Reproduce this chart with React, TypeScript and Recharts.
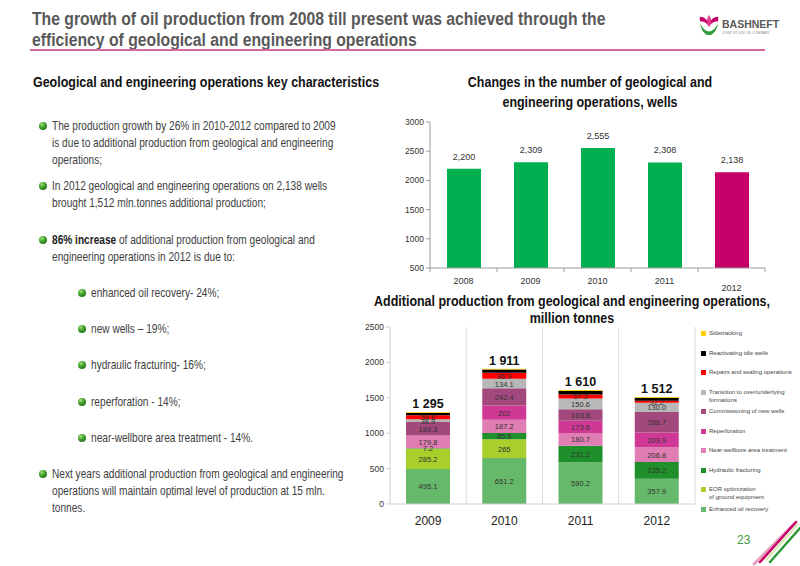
import { Bar, BarChart, CartesianGrid, Cell, LabelList, XAxis, YAxis } from "recharts";

// wells chart
const wellYears = ["2008", "2009", "2010", "2011", "2012"];
const wellCounts = [2200, 2309, 2555, 2308, 2138];
const wellTicks = [500, 1000, 1500, 2000, 2500, 3000];

// additional production chart (bottom to top of stack)
const prodYears = ["2009", "2010", "2011", "2012"];
const prodTotals = [1295, 1911, 1610, 1512];
const enhancedOilRecovery = [495.1, 651.2, 590.2, 357.9];
const eorOptimization = [285.2, 265, 0, 0];
const hydraulicFracturing = [7.2, 85.5, 231.2, 235.2];
const nearWellbore = [179.8, 187.2, 180.7, 206.8];
const reperforation = [0, 202, 173.6, 209.9];
const newWells = [189.3, 242.4, 163.8, 288.7];
const transition = [38.9, 134.1, 150.6, 130.0];
const repairs = [59.6, 86.9, 57.3, 31.2];
const reactivating = [30, 44, 48, 40];
const sidetracking = [10, 12.7, 14.6, 12.3];
const prodTicks = [0, 500, 1000, 1500, 2000, 2500];

const series = [
  { key: "eor", name: "Enhanced oil recovery", values: enhancedOilRecovery, color: "#66b96a", label: true, fixed: false },
  { key: "eorOpt", name: "EOR optimization\nof ground equipment", values: eorOptimization, color: "#a9cf2c", label: true, fixed: false },
  { key: "hf", name: "Hydraulic fracturing", values: hydraulicFracturing, color: "#1f8f2c", label: true, fixed: false },
  { key: "nwat", name: "Near-wellbore area treatment", values: nearWellbore, color: "#e07db2", label: true, fixed: false },
  { key: "reperf", name: "Reperforation", values: reperforation, color: "#cf3894", label: true, fixed: false },
  { key: "newWells", name: "Commissioning of new wells", values: newWells, color: "#a2487c", label: true, fixed: false },
  { key: "transition", name: "Transition to over/underlying\nformations", values: transition, color: "#b8b8b8", label: true, fixed: true },
  { key: "repairs", name: "Repairs and sealing operations", values: repairs, color: "#ff0000", label: true, fixed: false },
  { key: "reactivating", name: "Reactivating idle wells", values: reactivating, color: "#000000", label: false, fixed: false },
  { key: "sidetracking", name: "Sidetracking", values: sidetracking, color: "#ffd200", label: false, fixed: false },
];

const wellData = wellYears.map((year, i) => ({ year, count: wellCounts[i] }));

const prodData = prodYears.map((year, i) => {
  const row: Record<string, number | string> = {
    year,
    total: prodTotals[i].toLocaleString("en-US").replace(",", " "),
  };
  series.forEach((s) => (row[s.key] = s.values[i]));
  return row;
});

const arial = "'Liberation Sans', Arial, sans-serif";
const SQUEEZE = "scaleX(0.82)";

const mainBullets = [
  { top: 118, lines: ["The production growth by 26% in 2010-2012 compared to 2009", "is due to additional production from geological and engineering", "operations;"] },
  { top: 178, lines: ["In 2012 geological and engineering operations on 2,138 wells", "brought 1,512  mln.tonnes additional production;"] },
  { top: 232, lines: ["__86% increase of additional production from geological and", "engineering operations in 2012 is due to:"] },
  { top: 466, lines: ["Next years additional production from geological and engineering", "operations will maintain optimal level of production at 15 mln.", "tonnes."] },
];
const subBullets = [
  { top: 285, text: "enhanced oil recovery- 24%;" },
  { top: 321, text: "new wells – 19%;" },
  { top: 357, text: "hydraulic fracturing- 16%;" },
  { top: 394, text: "reperforation - 14%;" },
  { top: 430, text: "near-wellbore area treatment - 14%." },
];

function Dot({ left, top }: { left: number; top: number }) {
  return (
    <div
      style={{
        position: "absolute",
        left,
        top,
        width: 8,
        height: 8,
        borderRadius: "50%",
        background: "radial-gradient(circle at 35% 30%, #9be07a 0%, #3c9a2a 45%, #1c5e12 100%)",
      }}
    />
  );
}

function WellTick(props: any) {
  const { x, y, payload, width } = props;
  const half = (width || 335) / wellYears.length / 2;
  const low = payload.value === "2012";
  return (
    <g>
      <line x1={x - half} x2={x - half} y1={y - 8} y2={y - 4} stroke="#999" />
      {payload.index === wellYears.length - 1 && (
        <line x1={x + half} x2={x + half} y1={y - 8} y2={y - 4} stroke="#999" />
      )}
      <text x={x} y={y + (low ? 15 : 8)} textAnchor="middle" fontSize={9} fill="#333" fontFamily={arial}>
        {payload.value}
      </text>
    </g>
  );
}

function SegmentLabel(props: any) {
  const { x, y, width, height, value, fixed } = props;
  if (!value) return null;
  return (
    <text
      x={x + width / 2}
      y={y + height / 2 + 3}
      textAnchor="middle"
      fontSize={7.5}
      fill="#333"
      fontFamily={arial}
    >
      {fixed ? Number(value).toFixed(1) : value}
    </text>
  );
}

function Logo() {
  return (
    <div style={{ position: "absolute", left: 698, top: 12, width: 90, height: 30 }}>
      <svg width={22} height={22} viewBox="0 0 24 24" style={{ position: "absolute", left: 0, top: 2 }}>
        <path d="M2 3 C8 3 12 8 12 14 C10 10 6 8 2 8 Z" fill="#c8006a" />
        <path d="M22 3 C16 3 12 8 12 14 C14 10 18 8 22 8 Z" fill="#c8006a" />
        <path d="M12 1 C15 5 15 10 12 14 C9 10 9 5 12 1 Z" fill="#e0408a" />
        <path d="M2 10 C4 19 8 23 12 23 C16 23 20 19 22 10 C19 16 15 19 12 19 C9 19 5 16 2 10 Z" fill="#2f9a3a" />
      </svg>
      <div style={{ position: "absolute", left: 24, top: 6, fontFamily: arial, fontWeight: 700, fontSize: 10.5, color: "#5a5a5a" }}>
        BASHNEFT
      </div>
      <div style={{ position: "absolute", left: 24, top: 19, fontFamily: arial, fontSize: 3.5, color: "#888" }}>
        JOINT STOCK OIL COMPANY
      </div>
    </div>
  );
}

const leftText = {
  position: "absolute" as const,
  fontFamily: arial,
  whiteSpace: "nowrap" as const,
  transform: SQUEEZE,
  transformOrigin: "0 0",
};

const centerText = {
  position: "absolute" as const,
  fontFamily: arial,
  fontWeight: 700,
  whiteSpace: "nowrap" as const,
  textAlign: "center" as const,
  transform: SQUEEZE,
  transformOrigin: "50% 0",
  color: "#111",
};

export default function App() {
  const legendItems = [...series].reverse();
  return (
    <div style={{ position: "absolute", left: 0, top: 0, width: 800, height: 566, background: "#fff", overflow: "hidden" }}>
      {/* header */}
      <div style={{ ...leftText, left: 32, top: 8, fontWeight: 700, fontSize: 19.2, lineHeight: "21px", color: "#595959" }}>
        The growth of oil production from 2008 till present was achieved through the
        <br />
        efficiency of geological and engineering operations
      </div>
      <div style={{ position: "absolute", left: 30, top: 49, width: 735, height: 2, background: "#d66a9e" }} />
      <Logo />

      {/* left column */}
      <div style={{ ...leftText, left: 33, top: 73, fontWeight: 700, fontSize: 15.2, color: "#111" }}>
        Geological and engineering operations key characteristics
      </div>
      {mainBullets.map((b, i) => (
        <div key={i}>
          <Dot left={39} top={b.top + 4} />
          <div style={{ ...leftText, left: 52, top: b.top, fontSize: 12.35, lineHeight: "17px", color: "#404040" }}>
            {b.lines.map((l, j) =>
              l.startsWith("__") ? (
                <div key={j}>
                  <b style={{ color: "#222" }}>86% increase</b>
                  {l.slice(14)}
                </div>
              ) : (
                <div key={j}>{l}</div>
              )
            )}
          </div>
        </div>
      ))}
      {subBullets.map((b, i) => (
        <div key={i}>
          <Dot left={78} top={b.top + 4} />
          <div style={{ ...leftText, left: 91, top: b.top, fontSize: 12.35, lineHeight: "17px", color: "#404040" }}>
            {b.text}
          </div>
        </div>
      ))}

      {/* wells chart */}
      <div style={{ ...centerText, left: 440, top: 72, width: 300, fontSize: 15.2, lineHeight: "20px" }}>
        Changes in the number of geological and
        <br />
        engineering operations, wells
      </div>
      <div style={{ position: "absolute", left: 380, top: 110 }}>
        <BarChart width={400} height={200} data={wellData} margin={{ top: 12, right: 15, bottom: 12, left: 10 }}>
          <XAxis dataKey="year" stroke="#999" tickLine={false} tick={<WellTick />} height={30} />
          <YAxis
            domain={[500, 3000]}
            ticks={wellTicks}
            allowDataOverflow
            width={40}
            stroke="#999"
            tickSize={4}
            tick={{ fontSize: 8.5, fill: "#333", fontFamily: arial }}
          />
          <Bar dataKey="count" barSize={34} isAnimationActive={false}>
            {wellData.map((d, i) => (
              <Cell key={d.year} fill={i === wellData.length - 1 ? "#c8006a" : "#00b050"} />
            ))}
            <LabelList
              dataKey="count"
              position="top"
              offset={9}
              formatter={(v: any) => Number(v).toLocaleString("en-US")}
              style={{ fontSize: 9, fill: "#333", fontFamily: arial }}
            />
          </Bar>
        </BarChart>
      </div>

      {/* production chart */}
      <div style={{ ...centerText, left: 322, top: 292, width: 500, fontSize: 15.2, lineHeight: "17px" }}>
        Additional production from geological and engineering operations,
        <br />
        million tonnes
      </div>
      <div style={{ position: "absolute", left: 340, top: 320 }}>
        <BarChart width={370} height={215} data={prodData} margin={{ top: 7, right: 15, bottom: 0, left: 10 }}>
          <CartesianGrid
            horizontal={false}
            stroke="#d9d9d9"
            verticalCoordinatesGenerator={({ offset }: any) =>
              prodYears.map((_, i) => offset.left + ((i + 1) * offset.width) / prodYears.length)
            }
          />
          <XAxis
            dataKey="year"
            stroke="#d0d0d0"
            tickLine={false}
            height={31}
            tick={{ fontSize: 12, fill: "#222", fontFamily: arial }}
            tickMargin={6}
          />
          <YAxis
            domain={[0, 2500]}
            ticks={prodTicks}
            width={40}
            stroke="#d0d0d0"
            tickSize={4}
            tick={{ fontSize: 8.5, fill: "#333", fontFamily: arial }}
          />
          {series.map((s, i) => (
            <Bar key={s.key} dataKey={s.key} stackId="a" fill={s.color} barSize={44} isAnimationActive={false}>
              {s.label && <LabelList dataKey={s.key} content={<SegmentLabel fixed={s.fixed} />} />}
              {i === series.length - 1 && (
                <LabelList
                  dataKey="total"
                  position="top"
                  offset={4}
                  style={{ fontSize: 12.5, fontWeight: 700, fill: "#111", fontFamily: arial }}
                />
              )}
            </Bar>
          ))}
        </BarChart>
      </div>

      {/* legend */}
      <div style={{ position: "absolute", left: 701, top: 329, width: 99 }}>
        {legendItems.map((s, i) => {
          const tops = [0, 19.5, 39, 58.5, 78, 97.5, 117, 136.5, 156, 176];
          return (
            <div key={s.key} style={{ position: "absolute", left: 0, top: tops[i], display: "flex", alignItems: "flex-start" }}>
              <div style={{ width: 5, height: 5, background: s.color, marginTop: 2, marginRight: 3, flex: "none" }} />
              <div style={{ fontFamily: arial, fontSize: 6, lineHeight: "8px", color: "#444", whiteSpace: "pre" }}>{s.name}</div>
            </div>
          );
        })}
      </div>

      {/* footer */}
      <div style={{ position: "absolute", left: 737, top: 533, fontFamily: arial, fontSize: 12, color: "#3f9a3a" }}>23</div>
      <svg width={50} height={46} style={{ position: "absolute", left: 750, top: 520 }}>
        <line x1={4} y1={44} x2={44} y2={4} stroke="#e8a0c0" strokeWidth={3} strokeLinecap="round" />
        <line x1={10} y1={42} x2={46} y2={2} stroke="#c8006a" strokeWidth={2.5} strokeLinecap="round" />
        <line x1={16} y1={40} x2={48} y2={4} stroke="#d8e8b0" strokeWidth={2} strokeLinecap="round" />
        <line x1={20} y1={42} x2={50} y2={8} stroke="#2f9a3a" strokeWidth={2.5} strokeLinecap="round" />
      </svg>
    </div>
  );
}
